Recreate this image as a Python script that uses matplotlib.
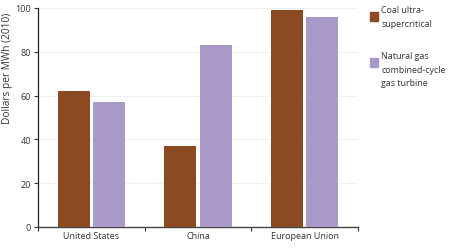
import matplotlib
matplotlib.use("Agg")
import matplotlib.pyplot as plt
import numpy as np
from matplotlib.patches import Rectangle

categories = ["United States", "China", "European Union"]
coal = [62, 37, 99]
gas = [57, 83, 96]
series_names = ["Coal ultra-\nsupercritical", "Natural gas\ncombined-cycle\ngas turbine"]
yticks = [0, 20, 40, 60, 80, 100]

coal_color = "#8B4A22"
gas_color = "#A899C8"

plt.rcParams['font.family'] = ['Open Sans', 'DejaVu Sans']

fig = plt.figure(figsize=(4.49, 2.51), dpi=100)
ax = fig.add_axes([38/449, 1 - 228/251, 320/449, 219/251])

x = np.arange(len(categories))
w = 0.30
off = 0.165
ax.bar(x - off, coal, width=w, color=coal_color, zorder=3)
ax.bar(x + off, gas, width=w, color=gas_color, zorder=3)

ax.set_xlim(-0.5, 2.5)
ax.set_ylim(0, 100)
ax.set_yticks(yticks)
ax.set_yticklabels([str(t) for t in yticks], fontsize=6.5, color="#333333")
ax.set_xticks([-0.5, 0.5, 1.5, 2.5])
ax.set_xticklabels([])
ax.set_xticks(x, minor=True)
ax.set_xticklabels(categories, minor=True, fontsize=6.5, color="#333333")
ax.tick_params(axis='x', which='major', direction='out', length=3, width=0.8, color="#333333")
ax.tick_params(axis='x', which='minor', length=0, pad=3)
ax.tick_params(axis='y', direction='out', length=3, width=0.8, color="#333333", pad=2)

for s in ['top', 'right']:
    ax.spines[s].set_visible(False)
ax.spines['left'].set_color("#222222")
ax.spines['bottom'].set_color("#444444")
ax.spines['left'].set_linewidth(0.9)
ax.spines['bottom'].set_linewidth(1.0)

ax.yaxis.grid(True, color="#dddddd", linewidth=0.6, linestyle=(0, (1, 1)), zorder=0)

ax.set_ylabel("Dollars per MWh (2010)", fontsize=7.3, color="#333333", va='center')
ax.yaxis.set_label_coords(-0.095, 0.73)

# legend
fig.patches.append(Rectangle((370/449, 1 - 22/251), 8/449, 9/251, transform=fig.transFigure, color=coal_color))
fig.patches.append(Rectangle((370/449, 1 - 68/251), 8/449, 9/251, transform=fig.transFigure, color=gas_color))
fig.text(381/449, 1 - 6/251, series_names[0], fontsize=6.4, color="#333333", va='top', ha='left', linespacing=1.65)
fig.text(381/449, 1 - 52/251, series_names[1], fontsize=6.4, color="#333333", va='top', ha='left', linespacing=1.65)

fig.savefig("out.png", dpi=100)
